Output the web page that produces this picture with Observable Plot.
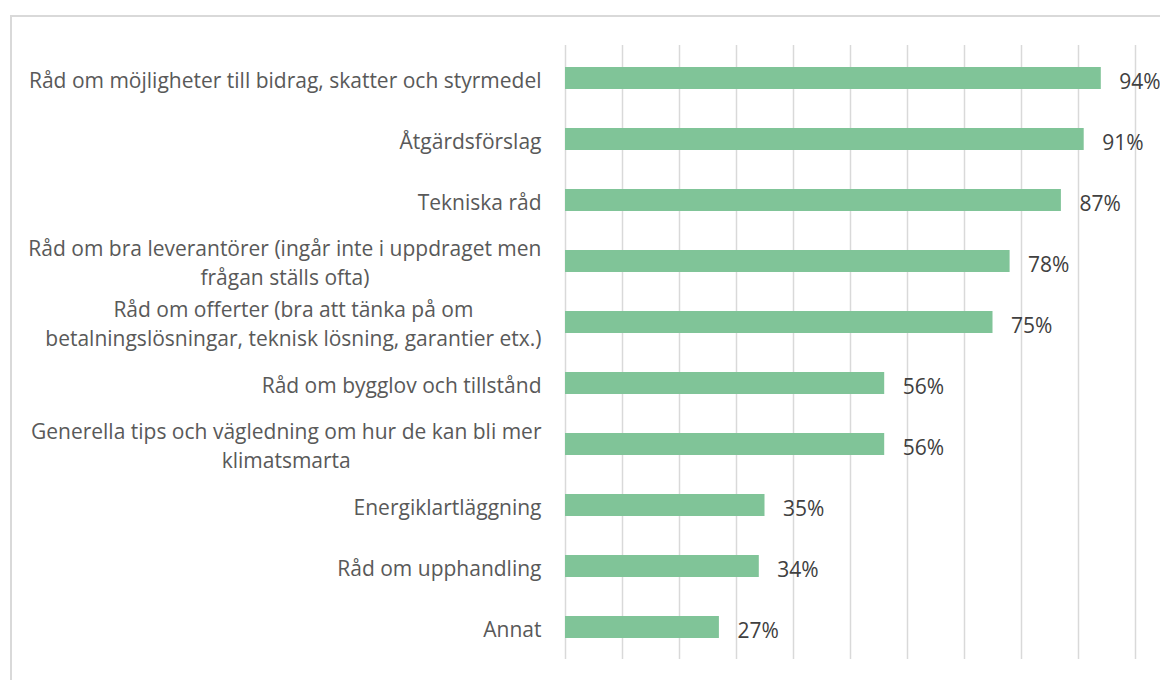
<!DOCTYPE html>
<html>
<head>
<meta charset="utf-8">
<script src="https://cdn.jsdelivr.net/npm/d3@7"></script>
<script src="https://cdn.jsdelivr.net/npm/@observablehq/plot@0.6"></script>
<style>
  html, body { margin: 0; padding: 0; background: #fff; }
  #wrap { position: relative; width: 1160px; height: 680px; overflow: hidden; }
  #frame { position: absolute; left: 10px; top: 15px; width: 1200px; height: 720px; border: 2px solid #d9d9d9; box-sizing: border-box; }
  #chart { position: absolute; left: 0; top: 0; }
</style>
</head>
<body>
<div id="wrap"><div id="frame"></div><div id="chart"></div></div>
<script>
const categories = [
  "Råd om möjligheter till bidrag, skatter och styrmedel",
  "Åtgärdsförslag",
  "Tekniska råd",
  "Råd om bra leverantörer (ingår inte i uppdraget men frågan ställs ofta)",
  "Råd om offerter (bra att tänka på om betalningslösningar, teknisk lösning, garantier etx.)",
  "Råd om bygglov och tillstånd",
  "Generella tips och vägledning om hur de kan bli mer klimatsmarta",
  "Energiklartläggning",
  "Råd om upphandling",
  "Annat"
];
const tickLabels = [
  "Råd om möjligheter till bidrag, skatter och styrmedel",
  "Åtgärdsförslag",
  "Tekniska råd",
  "Råd om bra leverantörer (ingår inte i uppdraget men\nfrågan ställs ofta)",
  "Råd om offerter (bra att tänka på om\nbetalningslösningar, teknisk lösning, garantier etx.)",
  "Råd om bygglov och tillstånd",
  "Generella tips och vägledning om hur de kan bli mer\nklimatsmarta",
  "Energiklartläggning",
  "Råd om upphandling",
  "Annat"
];
const values = [94, 91, 87, 78, 75, 56, 56, 35, 34, 27];
const gridTicks = [0, 10, 20, 30, 40, 50, 60, 70, 80, 90, 100];

const data = categories.map((c, i) => ({category: c, value: values[i]}));
const labelOf = new Map(categories.map((c, i) => [c, tickLabels[i]]));

const chart = Plot.plot({
  width: 1160,
  height: 680,
  marginLeft: 565,
  marginRight: 25,
  marginTop: 45,
  marginBottom: 21,
  style: {fontFamily: "'Open Sans', sans-serif", fontSize: "21px", background: "transparent", overflow: "visible"},
  x: {domain: [0, 100], axis: null},
  y: {domain: categories, paddingInner: 0.64, paddingOuter: 0.32, axis: null},
  marks: [
    Plot.gridX(gridTicks, {stroke: "#d9d9d9", strokeOpacity: 1, strokeWidth: 1.5}),
    Plot.barX(data, {x: "value", y: "category", fill: "#80c498"}),
    Plot.text(data, {x: "value", y: "category", text: d => d.value + "%", textAnchor: "start", dx: 18, dy: 4, fill: "#404040", fontSize: 21}),
    Plot.axisY({tickSize: 0, tickPadding: 24, tickFormat: d => labelOf.get(d), fill: "#595959", fontSize: 21, lineHeight: 1.38, dy: 0, label: null})
  ]
});
document.getElementById("chart").appendChild(chart);

// Center wrapped label lines relative to each other (right-aligned block)
chart.querySelectorAll("[aria-label='y-axis tick label'] text").forEach(t => {
  const spans = t.querySelectorAll("tspan");
  if (spans.length > 1) {
    let max = 0;
    spans.forEach(s => { max = Math.max(max, s.getComputedTextLength()); });
    t.setAttribute("text-anchor", "middle");
    spans.forEach(s => s.setAttribute("x", -max / 2));
  }
});
</script>
</body>
</html>
